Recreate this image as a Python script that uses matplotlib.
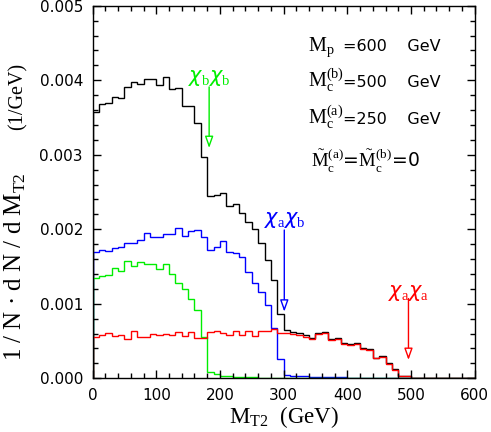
import numpy as np
import matplotlib
matplotlib.use("Agg")
import matplotlib.pyplot as plt
from matplotlib.ticker import MultipleLocator, FormatStrFormatter

plt.rcParams['font.family'] = 'DejaVu Sans'
plt.rcParams['mathtext.fontset'] = 'custom'
plt.rcParams['mathtext.rm'] = 'Liberation Serif'
plt.rcParams['mathtext.it'] = 'DejaVu Sans:italic'
plt.rcParams['mathtext.bf'] = 'Liberation Serif:bold'

# M_T2 bins, 10 GeV wide from 0 to 600
bin_edges = np.arange(0, 610, 10)

# distributions in units of 1e-3 / GeV
total = [3.58, 3.68, 3.69, 3.78, 3.76, 3.91, 3.97, 3.95, 4.02, 4.02,
         3.93, 4.04, 3.88, 3.90, 3.66, 3.66, 3.42, 2.97, 2.44, 2.46,
         2.49, 2.31, 2.34, 2.22, 2.10, 2.00, 1.82, 1.59, 1.32, 0.863,
         0.648, 0.626, 0.604, 0.575, 0.545, 0.612, 0.626, 0.528, 0.545, 0.470,
         0.460, 0.478, 0.403, 0.389, 0.277, 0.299, 0.201, 0.121, 0.035, 0.035,
         0, 0, 0, 0, 0, 0, 0, 0, 0, 0]
chi_a_chi_b = [1.70, 1.72, 1.71, 1.75, 1.76, 1.82, 1.82, 1.85, 1.95, 1.90,
               1.90, 1.93, 1.93, 2.02, 1.91, 1.98, 1.99, 1.90, 1.72, 1.76,
               1.84, 1.70, 1.68, 1.63, 1.43, 1.28, 1.16, 0.98, 0.67, 0.255,
               0.044, 0.030, 0.025, 0.025, 0.020, 0.020, 0.015, 0.015, 0.012, 0.012,
               0.010, 0.010, 0.008, 0.005, 0, 0, 0, 0, 0, 0,
               0, 0, 0, 0, 0, 0, 0, 0, 0, 0]
chi_b_chi_b = [1.34, 1.37, 1.38, 1.48, 1.44, 1.57, 1.51, 1.56, 1.53, 1.54,
               1.47, 1.53, 1.40, 1.275, 1.20, 1.07, 0.91, 0.56, 0.089, 0.058,
               0.030, 0.025, 0.020, 0.020, 0.015, 0.012, 0.008, 0, 0, 0,
               0, 0, 0, 0, 0, 0, 0, 0, 0, 0,
               0, 0, 0, 0, 0, 0, 0, 0, 0, 0,
               0, 0, 0, 0, 0, 0, 0, 0, 0, 0]
chi_a_chi_a = [0.550, 0.581, 0.604, 0.572, 0.581, 0.528, 0.639, 0.550, 0.550, 0.599,
               0.581, 0.590, 0.581, 0.617, 0.572, 0.621, 0.540, 0.540, 0.626, 0.639,
               0.612, 0.577, 0.639, 0.577, 0.639, 0.568, 0.639, 0.639, 0.657, 0.612,
               0.604, 0.595, 0.577, 0.559, 0.530, 0.595, 0.610, 0.512, 0.530, 0.455,
               0.447, 0.465, 0.392, 0.380, 0.270, 0.292, 0.196, 0.118, 0.035, 0.035,
               0, 0, 0, 0, 0, 0, 0, 0, 0, 0]

# kinematic endpoints (GeV) marked with arrows
endpoint_bb = 183
endpoint_ab = 301
endpoint_aa = 496

GREEN = '#00ee00'
BLUE = '#0000ff'
RED = '#ff0000'

fig = plt.figure(figsize=(4.91, 4.32), dpi=100)
ax = fig.add_axes([0.1886, 0.1243, 0.7782, 0.8625])

ax.stairs(np.array(total) * 1e-3, bin_edges, color='black', lw=1.0)
ax.stairs(np.array(chi_a_chi_b) * 1e-3, bin_edges, color=BLUE, lw=1.0)
ax.stairs(np.array(chi_b_chi_b) * 1e-3, bin_edges, color=GREEN, lw=1.0)
ax.stairs(np.array(chi_a_chi_a) * 1e-3, bin_edges, color=RED, lw=1.0)

ax.set_xlim(0, 600)
ax.set_ylim(0, 0.005)
ax.xaxis.set_major_locator(MultipleLocator(100))
ax.xaxis.set_minor_locator(MultipleLocator(20))
ax.yaxis.set_major_locator(MultipleLocator(0.001))
ax.yaxis.set_minor_locator(MultipleLocator(0.0002))
ax.yaxis.set_major_formatter(FormatStrFormatter('%.3f'))
ax.tick_params(which='both', direction='in', top=True, right=True, width=1.0)
ax.tick_params(which='major', length=6, labelsize=11, pad=7)
ax.tick_params(which='minor', length=3.3)
for sp in ax.spines.values():
    sp.set_linewidth(1.0)

ax.set_xlabel(r'M$_\mathrm{T2}$  (GeV)', family='Liberation Serif', fontsize=16.5)
ax.xaxis.set_label_coords(0.5, -0.068)
# y label: the quantity, then its unit higher up the axis
ax.set_ylabel(r'1 / N · d N / d M$_\mathrm{T2}$', family='Liberation Serif', fontsize=18)
ax.yaxis.set_label_coords(-0.17, 0.30)
ax.text(-0.17, 0.756, '(1/GeV)', transform=ax.transAxes, rotation=90,
        family='Liberation Serif', fontsize=14.5, ha='right', va='center')

# endpoint arrows with hollow heads
arrows = [(endpoint_bb, 0.00391, 0.00309, 0.00403, GREEN, r'$\chi_\mathrm{b}\chi_\mathrm{b}$'),
          (endpoint_ab, 0.00199, 0.000894, 0.002125, BLUE, r'$\chi_\mathrm{a}\chi_\mathrm{b}$'),
          (endpoint_aa, 0.00107, 0.000246, 0.00114, RED, r'$\chi_\mathrm{a}\chi_\mathrm{a}$')]
for x, y0, y1, ylab, c, lab in arrows:
    ax.annotate('', xy=(x, y1), xytext=(x, y0),
                arrowprops=dict(arrowstyle='-|>,head_length=0.7,head_width=0.25',
                                ec=c, fc='white', lw=1.0, shrinkA=0, shrinkB=0))
    ax.text(x, ylab, lab, color=c, fontsize=15, ha='center', va='center')

# mass parameters
ax.text(0.5645, 0.879, r'$\mathrm{M_p}$', transform=ax.transAxes, fontsize=14.5, va='baseline')
ax.text(0.655, 0.879, '=600    GeV', transform=ax.transAxes, fontsize=11.5, va='baseline')
ax.text(0.5645, 0.7826, r'$\mathrm{M_c^{(b)}}$', transform=ax.transAxes, fontsize=14.5, va='baseline')
ax.text(0.655, 0.7826, '=500    GeV', transform=ax.transAxes, fontsize=11.5, va='baseline')
ax.text(0.5645, 0.6825, r'$\mathrm{M_c^{(a)}}$', transform=ax.transAxes, fontsize=14.5, va='baseline')
ax.text(0.655, 0.6825, '=250    GeV', transform=ax.transAxes, fontsize=11.5, va='baseline')
ax.text(0.572, 0.568, r'$\tilde{\mathrm{M}}_\mathrm{c}^\mathrm{(a)}$=$\tilde{\mathrm{M}}_\mathrm{c}^\mathrm{(b)}$=0',
        transform=ax.transAxes, fontsize=13.5, va='baseline')

fig.savefig('out.png', dpi=100)
